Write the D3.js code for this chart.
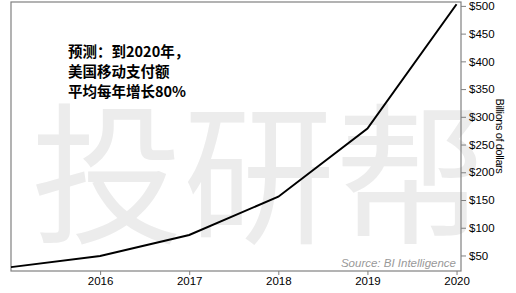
<!DOCTYPE html>
<html>
<head>
<meta charset="utf-8">
<script src="https://cdn.jsdelivr.net/npm/d3@7"></script>
<style>
  body { margin: 0; background: #fff; }
  svg { display: block; }
</style>
</head>
<body>
<div id="chart"></div>
<script>
const years = [2015, 2016, 2017, 2018, 2019, 2020];
const payments = [29, 49, 87, 156, 279, 503];
const yTicks = [50, 100, 150, 200, 250, 300, 350, 400, 450, 500];
const xTicks = [2016, 2017, 2018, 2019, 2020];
const noteLines = ["预测：到2020年，", "美国移动支付额", "平均每年增长80%"];
const watermark = "投研帮";

const W = 516, H = 293;
const margin = {top: 2, right: 55, bottom: 22, left: 11};
const width = W - margin.left - margin.right;
const height = H - margin.top - margin.bottom;

const svg = d3.select("#chart").append("svg")
    .attr("width", W).attr("height", H);

const g = svg.append("g")
    .attr("transform", "translate(" + margin.left + "," + margin.top + ")");

const x = d3.scaleLinear().domain([2015, 2020.05]).range([0, width]);
const y = d3.scaleLinear().domain([22, 507]).range([height, 0]);

// watermark
g.append("text")
    .attr("x", 20).attr("y", 230)
    .attr("font-family", "Noto Sans CJK SC")
    .attr("font-size", 152)
    .attr("fill", "#ececec")
    .text(watermark);

// frame
g.append("rect")
    .attr("width", width).attr("height", height)
    .attr("fill", "none").attr("stroke", "#808080").attr("stroke-width", 1.2);

// axes
const yAxis = g.append("g")
    .attr("transform", "translate(" + width + ",0)")
    .call(d3.axisRight(y).tickValues(yTicks).tickFormat(d => "$" + d).tickSize(5).tickPadding(3));
const xAxis = g.append("g")
    .attr("transform", "translate(0," + height + ")")
    .call(d3.axisBottom(x).tickValues(xTicks).tickFormat(d3.format("d")).tickSize(4).tickPadding(2));

[yAxis, xAxis].forEach(a => {
  a.select(".domain").remove();
  a.selectAll("line").attr("stroke", "#808080");
  a.selectAll("text").attr("font-family", "Liberation Sans, Arial")
      .attr("font-size", 11.5).attr("fill", "#000");
});

// line
g.append("path")
    .datum(years.map((d, i) => [d, payments[i]]))
    .attr("fill", "none").attr("stroke", "#000").attr("stroke-width", 2)
    .attr("d", d3.line().x(d => x(d[0])).y(d => y(d[1])));

// annotation
g.append("text")
    .attr("font-family", "Noto Sans CJK SC").attr("font-size", 14.5)
    .attr("font-weight", "bold").attr("fill", "#000")
    .selectAll("tspan").data(noteLines).enter().append("tspan")
    .attr("x", 57).attr("y", (d, i) => 55 + i * 20)
    .text(d => d);

// source
g.append("text")
    .attr("x", width - 5).attr("y", height - 4)
    .attr("text-anchor", "end")
    .attr("font-family", "Liberation Sans, Arial").attr("font-size", 11.5)
    .attr("font-style", "italic").attr("fill", "#999")
    .text("Source: BI Intelligence");

// y label
svg.append("text")
    .attr("transform", "translate(496,136) rotate(90)")
    .attr("text-anchor", "middle")
    .attr("font-family", "Liberation Sans, Arial").attr("font-size", 11)
    .attr("letter-spacing", -0.4)
    .attr("fill", "#000")
    .text("Billions of dollars");
</script>
</body>
</html>
